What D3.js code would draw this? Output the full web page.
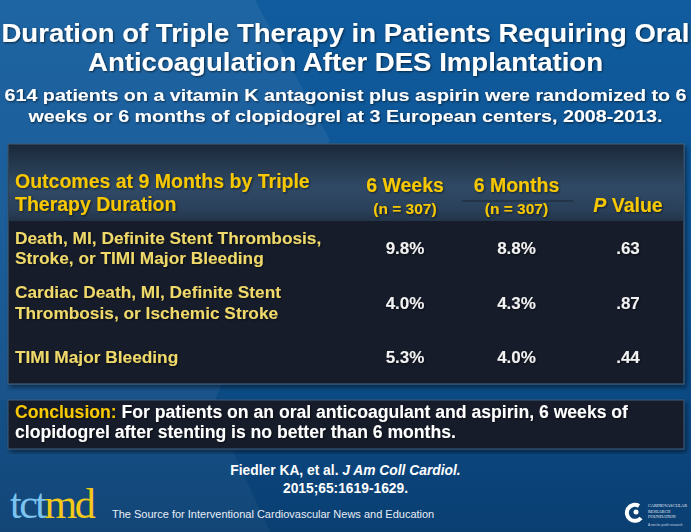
<!DOCTYPE html>
<html><head><meta charset="utf-8">
<script src="https://cdn.jsdelivr.net/npm/d3@7"></script>
<style>body{margin:0;background:#0d5190;}svg{display:block;}</style>
</head><body>
<svg id="c" width="691" height="532" font-family="'Liberation Sans', Arial, sans-serif"></svg>
<script>
const titleLines = ["Duration of Triple Therapy in Patients Requiring Oral", "Anticoagulation After DES Implantation"];
const subtitleLines = ["614 patients on a vitamin K antagonist plus aspirin were randomized to 6", "weeks or 6 months of clopidogrel at 3 European centers, 2008-2013."];
const headerLabel = ["Outcomes at 9 Months by Triple", "Therapy Duration"];
const columns = ["6 Weeks", "6 Months", "P Value"];
const columnSub = ["(n = 307)", "(n = 307)", ""];
const outcomes = [["Death, MI, Definite Stent Thrombosis,", "Stroke, or TIMI Major Bleeding"], ["Cardiac Death, MI, Definite Stent", "Thrombosis, or Ischemic Stroke"], ["TIMI Major Bleeding"]];
const weeks6 = ["9.8%", "4.0%", "5.3%"];
const months6 = ["8.8%", "4.3%", "4.0%"];
const pValues = [".63", ".87", ".44"];
const conclusionLines = ["For patients on an oral anticoagulant and aspirin, 6 weeks of", "clopidogrel after stenting is no better than 6 months."];
const citation = ["Fiedler KA, et al. ", "J Am Coll Cardiol.", "2015;65:1619-1629."];

const svg = d3.select("#c");
const W = 691, H = 532;
const defs = svg.append("defs");

const bg = defs.append("linearGradient").attr("id","bg").attr("x1",0).attr("y1",0).attr("x2",0).attr("y2",1);
bg.append("stop").attr("offset","0%").attr("stop-color","#105c9e");
bg.append("stop").attr("offset","55%").attr("stop-color","#0c5190");
bg.append("stop").attr("offset","100%").attr("stop-color","#0a3f72");
const hd = defs.append("linearGradient").attr("id","hd").attr("x1",0).attr("y1",0).attr("x2",0).attr("y2",1);
hd.append("stop").attr("offset","0%").attr("stop-color","#1b2939");
hd.append("stop").attr("offset","55%").attr("stop-color","#304a66");
hd.append("stop").attr("offset","85%").attr("stop-color","#2a405a");
hd.append("stop").attr("offset","100%").attr("stop-color","#223448");
const sh = defs.append("filter").attr("id","sh").attr("x","-5%").attr("y","-20%").attr("width","110%").attr("height","140%");
sh.append("feDropShadow").attr("dx",1).attr("dy",1).attr("stdDeviation",0.8).attr("flood-color","#000").attr("flood-opacity",0.6);
const bs = defs.append("filter").attr("id","bs").attr("x","-5%").attr("y","-5%").attr("width","110%").attr("height","115%");
bs.append("feDropShadow").attr("dx",2).attr("dy",3).attr("stdDeviation",2).attr("flood-color","#000").attr("flood-opacity",0.45);

svg.append("rect").attr("width",W).attr("height",H).attr("fill","url(#bg)");
svg.append("path").attr("d","M0,0 L255,0 L330,140 L215,400 L0,400 Z").attr("fill","#ffffff").attr("opacity",0.06);
svg.append("path").attr("d","M0,400 L210,400 L270,532 L0,532 Z").attr("fill","#ffffff").attr("opacity",0.04);

// Title
const title = svg.append("g").attr("filter","url(#sh)");
const titleLen = [688, 515];
title.selectAll("text.t").data(titleLines).join("text")
  .attr("x",W/2).attr("y",(d,i)=>42+i*29).attr("text-anchor","middle")
  .attr("font-size",25).attr("font-weight","bold").attr("fill","#ffffff")
  .attr("textLength",(d,i)=>titleLen[i]).attr("lengthAdjust","spacingAndGlyphs").text(d=>d);
const subLen = [682, 634];
title.selectAll("text.s").data(subtitleLines).join("text")
  .attr("x",W/2).attr("y",(d,i)=>101+i*21).attr("text-anchor","middle")
  .attr("font-size",17).attr("font-weight","bold").attr("fill","#ffffff")
  .attr("textLength",(d,i)=>subLen[i]).attr("lengthAdjust","spacingAndGlyphs").text(d=>d);

// Table panel
const px0 = 8, px1 = 684, py0 = 144, py1 = 384, hy = 221;
svg.append("rect").attr("x",px0).attr("y",py0).attr("width",px1-px0).attr("height",py1-py0)
  .attr("fill","#151f2c").attr("stroke","#3e5a78").attr("stroke-width",1.2).attr("filter","url(#bs)");
svg.append("rect").attr("x",px0+1).attr("y",py0+1).attr("width",px1-px0-2).attr("height",hy-py0-1).attr("fill","url(#hd)");

const colX = d3.scalePoint().domain(columns).range([405, 628]);
const rowY = d3.scalePoint().domain(d3.range(outcomes.length)).range([254, 363]);

const yellow = "#f7c800", lightY = "#efd96a";
svg.selectAll("text.hl").data(headerLabel).join("text")
  .attr("x",15).attr("y",(d,i)=>188+i*23).attr("font-size",19.5).attr("font-weight","bold")
  .attr("fill",yellow).attr("filter","url(#sh)").text(d=>d);

const hg = svg.append("g").attr("filter","url(#sh)");
columns.forEach((c,i)=>{
  if (c === "P Value") {
    const t = hg.append("text").attr("x",colX(c)).attr("y",212).attr("text-anchor","middle")
      .attr("font-size",19.5).attr("font-weight","bold").attr("fill",yellow);
    t.append("tspan").attr("font-style","italic").text("P");
    t.append("tspan").text(" Value");
  } else {
    hg.append("text").attr("x",colX(c)).attr("y",192).attr("text-anchor","middle")
      .attr("font-size",19.5).attr("font-weight","bold").attr("fill",yellow).text(c);
    hg.append("text").attr("x",colX(c)).attr("y",214).attr("text-anchor","middle")
      .attr("font-size",15.5).attr("font-weight","bold").attr("fill",yellow).text(columnSub[i]);
  }
});
svg.append("line").attr("x1",462).attr("x2",573).attr("y1",201).attr("y2",201).attr("stroke","#1a2634").attr("stroke-width",1.2);

// Rows
const rows = svg.append("g").attr("filter","url(#sh)");
outcomes.forEach((lines,i)=>{
  const yb = rowY(i);
  const off = lines.length === 2 ? [-10.5, 10] : [0];
  lines.forEach((l,j)=>{
    rows.append("text").attr("x",15).attr("y",yb+off[j]).attr("font-size",17.3).attr("font-weight","bold")
      .attr("fill",lightY).text(l);
  });
  const vals = [weeks6[i], months6[i], pValues[i]];
  vals.forEach((v,k)=>{
    rows.append("text").attr("x",colX(columns[k])).attr("y",yb).attr("text-anchor","middle")
      .attr("font-size",17).attr("font-weight","bold").attr("fill","#f2f2f2").text(v);
  });
});

// Conclusion box
svg.append("rect").attr("x",8).attr("y",400).attr("width",676).attr("height",49)
  .attr("fill","#151f2c").attr("stroke","#3e5a78").attr("stroke-width",1).attr("filter","url(#bs)");
const cg = svg.append("g").attr("filter","url(#sh)");
const c1 = cg.append("text").attr("x",15).attr("y",418).attr("font-size",17.6).attr("font-weight","bold").attr("fill","#ffffff");
c1.append("tspan").attr("fill",yellow).text("Conclusion:");
c1.append("tspan").text(" " + conclusionLines[0]);
cg.append("text").attr("x",15).attr("y",438).attr("font-size",17.6).attr("font-weight","bold").attr("fill","#ffffff").text(conclusionLines[1]);

// Citation
const cit = svg.append("text").attr("x",W/2).attr("y",475).attr("text-anchor","middle")
  .attr("font-size",13.8).attr("font-weight","bold").attr("fill","#ffffff");
cit.append("tspan").text(citation[0]);
cit.append("tspan").attr("font-style","italic").text(citation[1]);
svg.append("text").attr("x",W/2).attr("y",493).attr("text-anchor","middle")
  .attr("font-size",13.8).attr("font-weight","bold").attr("fill","#ffffff").text(citation[2]);

// Footer logo
const logo = svg.append("text").attr("x",10).attr("y",518)
  .style("font-family","'Liberation Serif','DejaVu Serif',serif")
  .attr("font-size",42).attr("letter-spacing",-2.5);
logo.append("tspan").attr("fill","#7cc3ee").text("tct");
logo.append("tspan").attr("fill","#f3c91a").text("md");
svg.append("text").attr("x",112).attr("y",518).attr("font-size",11).attr("fill","#e8eef5")
  .text("The Source for Interventional Cardiovascular News and Education");

// CRF mark
const crf = svg.append("g").attr("transform","translate(635,513)");
crf.append("path").attr("d","M4,-7 A8,8 0 1,0 6,5").attr("fill","none").attr("stroke","#ffffff").attr("stroke-width",4);
crf.append("circle").attr("cx",1).attr("cy",-1).attr("r",2.5).attr("fill","#ffffff");
["CARDIOVASCULAR","RESEARCH","FOUNDATION"].forEach((t,i)=>{
  svg.append("text").attr("x",648).attr("y",507+i*5.5).attr("font-size",4.3)
    .style("font-family","'Liberation Serif',serif")
    .attr("fill","#e8eef5").text(t);
});
svg.append("text").attr("x",648).attr("y",526).attr("font-size",3.3).attr("fill","#c8d4e2").text("A not-for-profit research");
</script>
</body></html>
